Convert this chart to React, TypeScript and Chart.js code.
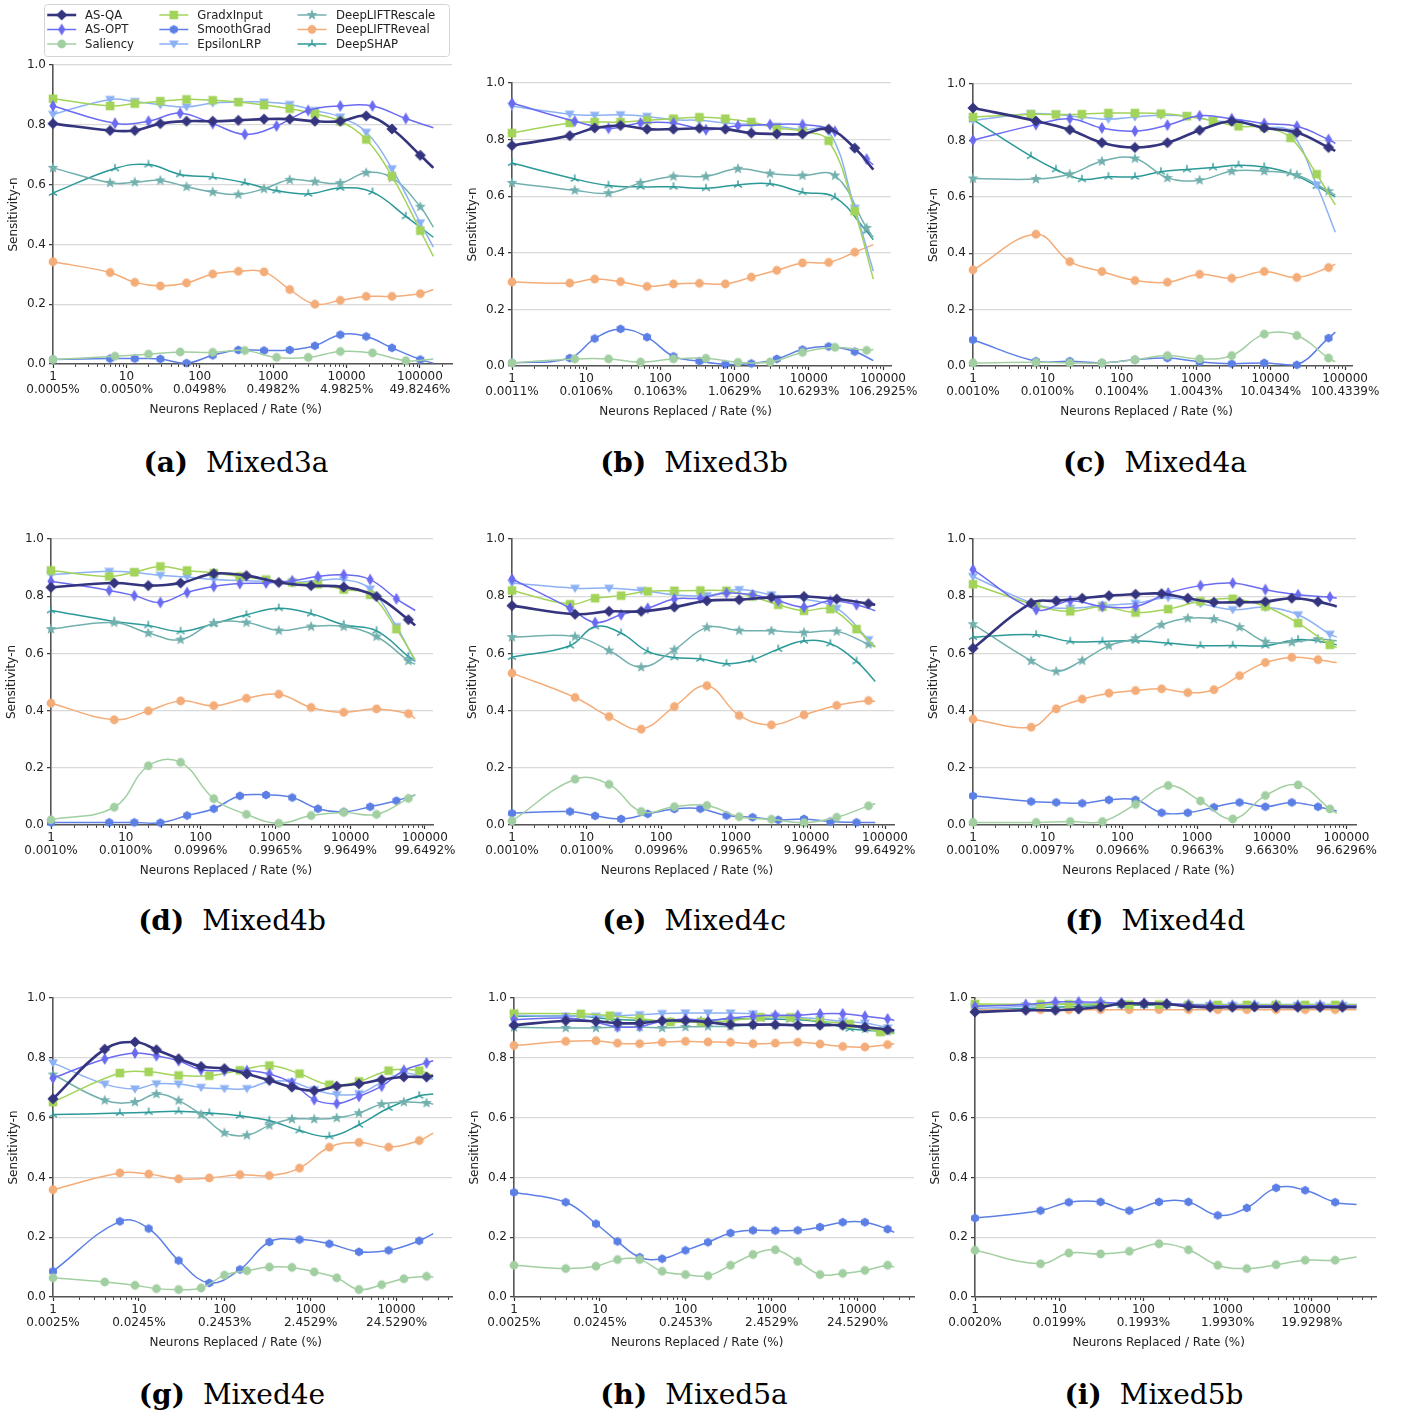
import React, { useEffect, useRef } from 'react';
import { Chart, registerables } from 'chart.js';

Chart.register(...registerables);

// ---------- series meta ----------
const METHODS = ['AS-QA', 'AS-OPT', 'Saliency', 'GradxInput', 'SmoothGrad', 'EpsilonLRP', 'DeepLIFTRescale', 'DeepLIFTReveal', 'DeepSHAP'];
const COLORS = ['#35357f', '#6b6bf2', '#a2cfa2', '#a3d45a', '#5c7fe6', '#8cb1f4', '#72b0ae', '#f4ac78', '#2b9997'];
const MARKERS = ['D', 'd', 'o', 's', 'h', 'v', '*', 'o', '2'];
const WIDTHS = [2.6, 1.5, 1.5, 1.5, 1.5, 1.5, 1.5, 1.5, 1.5];

const DECADE_TICKS = [1, 10, 100, 1000, 10000, 100000];
const Y_TICKS = [0, 0.2, 0.4, 0.6, 0.8, 1.0];

// ---------- x grids (neurons replaced) ----------
const X_A_M3A = [1, 6, 13, 29, 66, 150, 335, 750, 1680, 3700, 8200, 18500, 41500, 101000, 152000];
const X_B_M3A = [1, 7, 20, 54, 150, 410, 1110, 3000, 8200, 22500, 64000, 152000];
const X_A_MID = [1, 6, 13, 29, 66, 150, 335, 750, 1680, 3700, 8200, 18500, 41500, 74000];
const X_B_MID = [1, 7, 20, 54, 150, 410, 1110, 3000, 8200, 22500, 60000, 74000];
const X_A_LOW = [1, 6, 13, 29, 66, 150, 330, 740, 1650, 3650, 8070, 18350, 26700];
const X_D_LOW = [1, 4, 9, 16, 29, 53, 99, 181, 331, 605, 1100, 2010, 3650, 6700, 12160, 22340, 26700];
const X_A_M5B = [1, 6, 13, 31, 68, 153, 343, 764, 1690, 3767, 8340, 18920, 34000];
const X_D_M5B = [1, 4, 9, 17, 31, 55, 102, 189, 343, 620, 1140, 2085, 3767, 6820, 12560, 23120, 34000];

// ---------- tick rate labels ----------
const RATES_M3A = ['0.0005%', '0.0050%', '0.0498%', '0.4982%', '4.9825%', '49.8246%'];
const RATES_M3B = ['0.0011%', '0.0106%', '0.1063%', '1.0629%', '10.6293%', '106.2925%'];
const RATES_M4A = ['0.0010%', '0.0100%', '0.1004%', '1.0043%', '10.0434%', '100.4339%'];
const RATES_M4B = ['0.0010%', '0.0100%', '0.0996%', '0.9965%', '9.9649%', '99.6492%'];
const RATES_M4C = ['0.0010%', '0.0100%', '0.0996%', '0.9965%', '9.9649%', '99.6492%'];
const RATES_M4D = ['0.0010%', '0.0097%', '0.0966%', '0.9663%', '9.6630%', '96.6296%'];
const RATES_M4E = ['0.0025%', '0.0245%', '0.2453%', '2.4529%', '24.5290%'];
const RATES_M5A = ['0.0025%', '0.0245%', '0.2453%', '2.4529%', '24.5290%'];
const RATES_M5B = ['0.0020%', '0.0199%', '0.1993%', '1.9930%', '19.9298%'];

// ---------- values (order: AS-QA, AS-OPT, Saliency, GradxInput, SmoothGrad, EpsilonLRP, DeepLIFTRescale, DeepLIFTReveal, DeepSHAP) ----------
// grid letter per series: A = first x grid, B = second x grid
const GRID_M3A = 'ABBAAAAAB';
const M3A = [
  [0.804, 0.781, 0.781, 0.804, 0.812, 0.812, 0.815, 0.819, 0.819, 0.812, 0.812, 0.830, 0.786, 0.698, 0.656],
  [0.863, 0.805, 0.812, 0.839, 0.804, 0.768, 0.796, 0.848, 0.863, 0.863, 0.821, 0.790],
  [0.015, 0.026, 0.033, 0.040, 0.039, 0.045, 0.022, 0.022, 0.042, 0.037, 0.011, 0.017],
  [0.887, 0.863, 0.871, 0.879, 0.885, 0.882, 0.876, 0.866, 0.854, 0.837, 0.812, 0.751, 0.628, 0.446, 0.360],
  [0.015, 0.018, 0.018, 0.017, 0.003, 0.029, 0.047, 0.045, 0.047, 0.061, 0.098, 0.092, 0.054, 0.015, 0.003],
  [0.835, 0.885, 0.878, 0.867, 0.860, 0.873, 0.876, 0.876, 0.868, 0.848, 0.826, 0.775, 0.653, 0.472, 0.391],
  [0.656, 0.606, 0.608, 0.614, 0.593, 0.575, 0.567, 0.586, 0.616, 0.610, 0.605, 0.640, 0.623, 0.526, 0.458],
  [0.342, 0.306, 0.273, 0.261, 0.271, 0.301, 0.310, 0.308, 0.249, 0.200, 0.213, 0.226, 0.226, 0.235, 0.249],
  [0.572, 0.654, 0.667, 0.634, 0.625, 0.606, 0.580, 0.569, 0.589, 0.575, 0.494, 0.424],
];

const GRID_M3B = 'ABBAAABAB';
const M3B = [
  [0.779, 0.814, 0.841, 0.850, 0.837, 0.837, 0.840, 0.837, 0.823, 0.820, 0.820, 0.837, 0.770, 0.694],
  [0.929, 0.865, 0.840, 0.859, 0.859, 0.835, 0.849, 0.853, 0.853, 0.829, 0.731, 0.711],
  [0.011, 0.025, 0.025, 0.014, 0.025, 0.027, 0.013, 0.014, 0.048, 0.066, 0.055, 0.058],
  [0.823, 0.859, 0.862, 0.862, 0.868, 0.874, 0.879, 0.874, 0.862, 0.841, 0.829, 0.796, 0.547, 0.307],
  [0.011, 0.028, 0.097, 0.131, 0.102, 0.034, 0.017, 0.006, 0.009, 0.025, 0.058, 0.069, 0.051, 0.019],
  [0.918, 0.890, 0.886, 0.888, 0.882, 0.870, 0.868, 0.859, 0.853, 0.847, 0.835, 0.829, 0.558, 0.335],
  [0.647, 0.621, 0.611, 0.647, 0.670, 0.670, 0.697, 0.680, 0.673, 0.673, 0.488, 0.455],
  [0.297, 0.293, 0.307, 0.298, 0.281, 0.290, 0.292, 0.290, 0.314, 0.338, 0.364, 0.366, 0.402, 0.429],
  [0.717, 0.661, 0.638, 0.633, 0.633, 0.628, 0.640, 0.644, 0.614, 0.596, 0.476, 0.446],
];

const GRID_M4A = 'BBBABABBA';
const M4A = [
  [0.915, 0.869, 0.838, 0.792, 0.775, 0.792, 0.836, 0.868, 0.844, 0.828, 0.775, 0.763],
  [0.801, 0.856, 0.877, 0.844, 0.833, 0.854, 0.887, 0.877, 0.860, 0.850, 0.803, 0.789],
  [0.011, 0.013, 0.011, 0.011, 0.022, 0.037, 0.025, 0.037, 0.113, 0.108, 0.028, 0.015],
  [0.883, 0.892, 0.892, 0.893, 0.897, 0.897, 0.895, 0.886, 0.869, 0.850, 0.846, 0.809, 0.680, 0.571],
  [0.093, 0.017, 0.017, 0.011, 0.022, 0.028, 0.015, 0.008, 0.011, 0.004, 0.099, 0.120],
  [0.871, 0.895, 0.892, 0.883, 0.875, 0.883, 0.889, 0.886, 0.871, 0.862, 0.848, 0.830, 0.642, 0.474],
  [0.665, 0.663, 0.680, 0.726, 0.736, 0.667, 0.659, 0.691, 0.691, 0.677, 0.620, 0.606],
  [0.341, 0.467, 0.370, 0.335, 0.303, 0.297, 0.325, 0.311, 0.335, 0.314, 0.349, 0.361],
  [0.874, 0.744, 0.697, 0.662, 0.671, 0.671, 0.689, 0.697, 0.704, 0.712, 0.706, 0.683, 0.638, 0.600],
];

const GRID_M4B = 'BABAAABBB';
const M4B = [
  [0.831, 0.846, 0.837, 0.846, 0.879, 0.872, 0.848, 0.837, 0.832, 0.799, 0.718, 0.698],
  [0.852, 0.820, 0.802, 0.778, 0.813, 0.834, 0.844, 0.846, 0.854, 0.869, 0.875, 0.858, 0.791, 0.750],
  [0.018, 0.062, 0.207, 0.219, 0.092, 0.037, 0.006, 0.033, 0.044, 0.037, 0.093, 0.107],
  [0.890, 0.869, 0.884, 0.904, 0.890, 0.881, 0.869, 0.858, 0.848, 0.842, 0.823, 0.805, 0.685, 0.578],
  [0.009, 0.009, 0.009, 0.008, 0.033, 0.057, 0.102, 0.105, 0.096, 0.057, 0.046, 0.064, 0.085, 0.105],
  [0.875, 0.887, 0.883, 0.873, 0.867, 0.858, 0.855, 0.852, 0.848, 0.855, 0.858, 0.825, 0.694, 0.572],
  [0.685, 0.708, 0.671, 0.648, 0.706, 0.708, 0.680, 0.694, 0.694, 0.659, 0.574, 0.562],
  [0.426, 0.368, 0.399, 0.434, 0.417, 0.443, 0.457, 0.411, 0.394, 0.406, 0.389, 0.372],
  [0.750, 0.712, 0.698, 0.677, 0.704, 0.735, 0.758, 0.739, 0.700, 0.679, 0.589, 0.572],
];

const GRID_M4C = 'BABAABBBA';
const M4C = [
  [0.767, 0.737, 0.747, 0.747, 0.762, 0.784, 0.788, 0.796, 0.799, 0.790, 0.774, 0.770],
  [0.860, 0.758, 0.708, 0.735, 0.758, 0.790, 0.793, 0.811, 0.805, 0.784, 0.762, 0.784, 0.770, 0.749],
  [0.014, 0.160, 0.142, 0.047, 0.064, 0.068, 0.029, 0.020, 0.008, 0.027, 0.067, 0.074],
  [0.820, 0.772, 0.793, 0.802, 0.817, 0.819, 0.820, 0.819, 0.799, 0.770, 0.749, 0.755, 0.685, 0.622],
  [0.041, 0.047, 0.032, 0.021, 0.039, 0.056, 0.057, 0.033, 0.027, 0.018, 0.021, 0.012, 0.009, 0.009],
  [0.846, 0.828, 0.828, 0.820, 0.805, 0.802, 0.823, 0.805, 0.790, 0.758, 0.648, 0.622],
  [0.657, 0.659, 0.610, 0.552, 0.613, 0.691, 0.680, 0.679, 0.673, 0.677, 0.632, 0.624],
  [0.531, 0.446, 0.379, 0.335, 0.414, 0.487, 0.383, 0.350, 0.385, 0.418, 0.435, 0.432],
  [0.587, 0.627, 0.694, 0.671, 0.607, 0.586, 0.581, 0.564, 0.578, 0.615, 0.644, 0.634, 0.572, 0.502],
];

const GRID_M4D = 'ABBBABAAB';
const M4D = [
  [0.618, 0.776, 0.784, 0.793, 0.802, 0.807, 0.809, 0.793, 0.779, 0.779, 0.781, 0.793, 0.781, 0.764],
  [0.893, 0.753, 0.784, 0.764, 0.764, 0.811, 0.837, 0.846, 0.823, 0.805, 0.797, 0.793],
  [0.009, 0.009, 0.012, 0.012, 0.072, 0.138, 0.084, 0.021, 0.103, 0.140, 0.056, 0.041],
  [0.842, 0.768, 0.747, 0.763, 0.743, 0.755, 0.782, 0.791, 0.764, 0.706, 0.630, 0.621],
  [0.102, 0.082, 0.079, 0.076, 0.088, 0.088, 0.043, 0.043, 0.062, 0.079, 0.064, 0.079, 0.064, 0.049],
  [0.869, 0.771, 0.758, 0.768, 0.775, 0.795, 0.774, 0.753, 0.761, 0.735, 0.667, 0.657],
  [0.702, 0.574, 0.537, 0.575, 0.627, 0.653, 0.700, 0.723, 0.720, 0.692, 0.641, 0.639, 0.650, 0.644],
  [0.370, 0.342, 0.406, 0.440, 0.461, 0.470, 0.476, 0.463, 0.473, 0.522, 0.568, 0.586, 0.578, 0.568],
  [0.657, 0.665, 0.642, 0.642, 0.644, 0.636, 0.627, 0.628, 0.627, 0.648, 0.636, 0.630],
];

const GRID_M4E = 'BBBAABBAA';
const M4E = [
  [0.663, 0.829, 0.853, 0.827, 0.797, 0.771, 0.764, 0.746, 0.725, 0.702, 0.690, 0.705, 0.713, 0.727, 0.736, 0.736, 0.740],
  [0.732, 0.796, 0.816, 0.807, 0.790, 0.760, 0.757, 0.757, 0.746, 0.716, 0.660, 0.647, 0.671, 0.705, 0.758, 0.783, 0.790],
  [0.064, 0.050, 0.039, 0.028, 0.025, 0.030, 0.073, 0.088, 0.100, 0.099, 0.084, 0.064, 0.025, 0.041, 0.061, 0.069, 0.066],
  [0.652, 0.749, 0.753, 0.741, 0.740, 0.758, 0.774, 0.747, 0.710, 0.721, 0.757, 0.757, 0.741],
  [0.086, 0.253, 0.229, 0.122, 0.047, 0.092, 0.184, 0.192, 0.178, 0.151, 0.156, 0.188, 0.212],
  [0.783, 0.712, 0.696, 0.713, 0.712, 0.701, 0.697, 0.697, 0.721, 0.719, 0.693, 0.677, 0.680, 0.718, 0.749, 0.732, 0.729],
  [0.744, 0.658, 0.652, 0.679, 0.657, 0.610, 0.549, 0.541, 0.574, 0.595, 0.595, 0.599, 0.615, 0.645, 0.652, 0.649, 0.645],
  [0.359, 0.415, 0.411, 0.395, 0.398, 0.409, 0.406, 0.431, 0.501, 0.517, 0.501, 0.523, 0.548],
  [0.610, 0.615, 0.618, 0.621, 0.615, 0.606, 0.590, 0.557, 0.537, 0.576, 0.632, 0.673, 0.679],
];

const GRID_M5A = 'BBBABBBBA';
const M5A = [
  [0.909, 0.924, 0.922, 0.916, 0.916, 0.924, 0.924, 0.919, 0.911, 0.911, 0.911, 0.909, 0.909, 0.909, 0.903, 0.894, 0.891],
  [0.928, 0.933, 0.919, 0.903, 0.905, 0.922, 0.930, 0.924, 0.933, 0.939, 0.942, 0.942, 0.947, 0.947, 0.939, 0.930, 0.925],
  [0.106, 0.095, 0.103, 0.125, 0.125, 0.086, 0.075, 0.071, 0.106, 0.142, 0.158, 0.119, 0.075, 0.079, 0.089, 0.106, 0.100],
  [0.948, 0.947, 0.941, 0.931, 0.920, 0.920, 0.924, 0.936, 0.935, 0.922, 0.913, 0.886, 0.881],
  [0.350, 0.317, 0.245, 0.186, 0.133, 0.128, 0.156, 0.183, 0.214, 0.223, 0.222, 0.223, 0.234, 0.250, 0.250, 0.227, 0.216],
  [0.942, 0.939, 0.939, 0.941, 0.944, 0.948, 0.950, 0.950, 0.950, 0.947, 0.939, 0.935, 0.930, 0.922, 0.916, 0.900, 0.891],
  [0.902, 0.900, 0.900, 0.903, 0.903, 0.900, 0.903, 0.905, 0.905, 0.909, 0.909, 0.909, 0.911, 0.909, 0.897, 0.889, 0.885],
  [0.841, 0.855, 0.857, 0.849, 0.847, 0.852, 0.855, 0.853, 0.852, 0.847, 0.849, 0.852, 0.846, 0.838, 0.836, 0.844, 0.847],
  [0.939, 0.939, 0.930, 0.925, 0.920, 0.924, 0.930, 0.930, 0.928, 0.920, 0.897, 0.889, 0.883],
];

const GRID_M5B = 'BBAAABBAB';
const M5B = [
  [0.953, 0.959, 0.959, 0.963, 0.970, 0.981, 0.981, 0.980, 0.972, 0.969, 0.969, 0.970, 0.970, 0.969, 0.969, 0.969, 0.969],
  [0.972, 0.978, 0.987, 0.987, 0.986, 0.983, 0.983, 0.981, 0.978, 0.975, 0.974, 0.974, 0.974, 0.974, 0.974, 0.974, 0.974],
  [0.156, 0.111, 0.147, 0.144, 0.153, 0.178, 0.158, 0.106, 0.095, 0.108, 0.123, 0.123, 0.134],
  [0.980, 0.979, 0.979, 0.978, 0.978, 0.978, 0.977, 0.977, 0.977, 0.977, 0.977, 0.977, 0.977],
  [0.264, 0.289, 0.317, 0.318, 0.289, 0.318, 0.318, 0.273, 0.298, 0.365, 0.357, 0.317, 0.309],
  [0.965, 0.972, 0.978, 0.980, 0.980, 0.980, 0.979, 0.978, 0.976, 0.975, 0.975, 0.975, 0.975, 0.975, 0.975, 0.975, 0.975],
  [0.975, 0.978, 0.980, 0.980, 0.980, 0.980, 0.980, 0.979, 0.978, 0.978, 0.978, 0.978, 0.978, 0.978, 0.978, 0.978, 0.978],
  [0.961, 0.961, 0.961, 0.961, 0.961, 0.961, 0.961, 0.961, 0.961, 0.961, 0.961, 0.961, 0.961],
  [0.960, 0.965, 0.970, 0.972, 0.975, 0.976, 0.976, 0.976, 0.975, 0.975, 0.975, 0.975, 0.975, 0.975, 0.975, 0.975, 0.975],
];

type Panel = { letter: string; name: string; xA: number[]; xB: number[]; grid: string; values: number[][]; xMax: number; rates: string[] };

const PANELS: Panel[] = [
  { letter: '(a)', name: 'Mixed3a', xA: X_A_M3A, xB: X_B_M3A, grid: GRID_M3A, values: M3A, xMax: 273000, rates: RATES_M3A },
  { letter: '(b)', name: 'Mixed3b', xA: X_A_MID, xB: X_B_MID, grid: GRID_M3B, values: M3B, xMax: 128000, rates: RATES_M3B },
  { letter: '(c)', name: 'Mixed4a', xA: X_A_MID, xB: X_B_MID, grid: GRID_M4A, values: M4A, xMax: 124000, rates: RATES_M4A },
  { letter: '(d)', name: 'Mixed4b', xA: X_A_MID, xB: X_B_MID, grid: GRID_M4B, values: M4B, xMax: 128000, rates: RATES_M4B },
  { letter: '(e)', name: 'Mixed4c', xA: X_A_MID, xB: X_B_MID, grid: GRID_M4C, values: M4C, xMax: 132000, rates: RATES_M4C },
  { letter: '(f)', name: 'Mixed4d', xA: X_A_MID, xB: X_B_MID, grid: GRID_M4D, values: M4D, xMax: 134000, rates: RATES_M4D },
  { letter: '(g)', name: 'Mixed4e', xA: X_A_LOW, xB: X_D_LOW, grid: GRID_M4E, values: M4E, xMax: 44200, rates: RATES_M4E },
  { letter: '(h)', name: 'Mixed5a', xA: X_A_LOW, xB: X_D_LOW, grid: GRID_M5A, values: M5A, xMax: 45300, rates: RATES_M5A },
  { letter: '(i)', name: 'Mixed5b', xA: X_A_M5B, xB: X_D_M5B, grid: GRID_M5B, values: M5B, xMax: 57900, rates: RATES_M5B },
];

// page layout of each panel (plot spine / top / bottom / right end, caption centre)
const LAYOUT = [
  { spine: 53, top: 65, bottom: 364, right: 452, capX: 236, capY: 462 },
  { spine: 512, top: 83, bottom: 366, right: 891, capX: 694, capY: 462 },
  { spine: 973, top: 84, bottom: 366, right: 1352, capX: 1155, capY: 462 },
  { spine: 51, top: 539, bottom: 825, right: 433, capX: 232, capY: 920 },
  { spine: 512, top: 539, bottom: 825, right: 894, capX: 694, capY: 920 },
  { spine: 973, top: 539, bottom: 825, right: 1356, capX: 1155, capY: 920 },
  { spine: 53, top: 998, bottom: 1297, right: 452, capX: 232, capY: 1394 },
  { spine: 514, top: 998, bottom: 1297, right: 914, capX: 694, capY: 1394 },
  { spine: 975, top: 998, bottom: 1297, right: 1376, capX: 1154, capY: 1394 },
];

const FONT = '"DejaVu Sans", sans-serif';

// ---------- marker sprites ----------
const markerCache: Record<string, HTMLCanvasElement> = {};
function markerFor(i: number): HTMLCanvasElement {
  const key = MARKERS[i] + COLORS[i];
  if (markerCache[key]) return markerCache[key];
  const S = 16;
  const c = document.createElement('canvas');
  c.width = S;
  c.height = S;
  const g = c.getContext('2d')!;
  const m = S / 2;
  g.fillStyle = COLORS[i];
  g.strokeStyle = COLORS[i];
  g.beginPath();
  switch (MARKERS[i]) {
    case 'D':
      g.moveTo(m, m - 5.6); g.lineTo(m + 5.6, m); g.lineTo(m, m + 5.6); g.lineTo(m - 5.6, m); g.closePath(); g.fill();
      break;
    case 'd':
      g.moveTo(m, m - 6); g.lineTo(m + 3.6, m); g.lineTo(m, m + 6); g.lineTo(m - 3.6, m); g.closePath(); g.fill();
      break;
    case 'o':
      g.arc(m, m, 4.4, 0, Math.PI * 2); g.fill();
      break;
    case 's':
      g.rect(m - 4.3, m - 4.3, 8.6, 8.6); g.fill();
      break;
    case 'h':
      for (let k = 0; k < 6; k++) {
        const a = -Math.PI / 2 + (k * Math.PI) / 3;
        const px = m + 4.6 * Math.cos(a), py = m + 4.6 * Math.sin(a);
        if (k === 0) g.moveTo(px, py); else g.lineTo(px, py);
      }
      g.closePath(); g.fill();
      break;
    case 'v':
      g.moveTo(m - 5, m - 3.6); g.lineTo(m + 5, m - 3.6); g.lineTo(m, m + 4.8); g.closePath(); g.fill();
      break;
    case '*':
      for (let k = 0; k < 10; k++) {
        const a = -Math.PI / 2 + (k * Math.PI) / 5;
        const r = k % 2 === 0 ? 5.8 : 2.4;
        const px = m + r * Math.cos(a), py = m + r * Math.sin(a);
        if (k === 0) g.moveTo(px, py); else g.lineTo(px, py);
      }
      g.closePath(); g.fill();
      break;
    case '2':
      g.lineWidth = 1.4;
      g.moveTo(m, m); g.lineTo(m, m - 4.6);
      g.moveTo(m, m); g.lineTo(m - 4, m + 2.3);
      g.moveTo(m, m); g.lineTo(m + 4, m + 2.3);
      g.stroke();
      break;
  }
  markerCache[key] = c;
  return c;
}

function drawLegend(ctx: CanvasRenderingContext2D, offX: number, offY: number) {
  const bx = 44 - offX, by = 4 - offY, bw = 405, bh = 52;
  ctx.save();
  ctx.beginPath();
  if ((ctx as any).roundRect) (ctx as any).roundRect(bx + 0.5, by + 0.5, bw, bh, 3);
  else ctx.rect(bx + 0.5, by + 0.5, bw, bh);
  ctx.fillStyle = 'rgba(255,255,255,0.9)';
  ctx.fill();
  ctx.strokeStyle = '#d4d4d4';
  ctx.lineWidth = 1;
  ctx.stroke();
  const markX = [61.7, 173.8, 312];
  const textX = [85, 197.3, 336];
  const rowY = [15, 29.5, 44];
  ctx.font = `11.7px ${FONT}`;
  ctx.textAlign = 'left';
  ctx.textBaseline = 'middle';
  for (let i = 0; i < METHODS.length; i++) {
    const col = Math.floor(i / 3), row = i % 3;
    const mx = markX[col] - offX, y = rowY[row] - offY;
    ctx.strokeStyle = COLORS[i];
    ctx.lineWidth = WIDTHS[i];
    ctx.beginPath();
    ctx.moveTo(mx - 14.5, y);
    ctx.lineTo(mx + 14.5, y);
    ctx.stroke();
    const mk = markerFor(i);
    ctx.drawImage(mk, mx - mk.width / 2, y - mk.height / 2);
    ctx.fillStyle = '#222';
    ctx.fillText(METHODS[i], textX[col] - offX, y + 0.5);
  }
  ctx.restore();
}

function PanelChart({ p, g, legend }: { p: Panel; g: (typeof LAYOUT)[number]; legend: boolean }) {
  const ref = useRef<HTMLCanvasElement>(null);
  const yW = 50, padR = 44, xH = 60;
  const padTop = legend ? g.top : 14;
  const left = g.spine - yW;
  const topC = g.top - padTop;
  const width = yW + (g.right - g.spine) + padR;
  const height = g.bottom - topC + xH;

  useEffect(() => {
    const canvas = ref.current!;
    const datasets = p.values.map((vals, si) => {
      const xs = p.grid[si] === 'A' ? p.xA : p.xB;
      const n = Math.min(xs.length, vals.length);
      const pts: { x: number; y: number }[] = [];
      for (let i = 0; i < n; i++) pts.push({ x: xs[i], y: vals[i] });
      return {
        label: METHODS[si],
        data: pts,
        borderColor: COLORS[si],
        backgroundColor: COLORS[si],
        borderWidth: WIDTHS[si],
        pointStyle: markerFor(si),
        pointRadius: pts.map((_, i) => (i === n - 1 ? 0 : 5)),
        pointHoverRadius: 0,
        tension: 0.4,
        fill: false,
        clip: false as any,
      };
    });
    const decor = {
      id: 'decor',
      afterDraw(chart: any) {
        const ctx: CanvasRenderingContext2D = chart.ctx;
        const xs = chart.scales.x;
        const { left: l, right: r, bottom: b } = chart.chartArea;
        ctx.save();
        ctx.strokeStyle = '#333';
        ctx.lineWidth = 1;
        for (const d of DECADE_TICKS) {
          for (let k = 2; k < 10; k++) {
            const v = k * d;
            if (v > p.xMax) continue;
            const px = Math.round(xs.getPixelForValue(v)) + 0.5;
            ctx.beginPath();
            ctx.moveTo(px, b + 0.5);
            ctx.lineTo(px, b + 2.8);
            ctx.stroke();
          }
        }
        ctx.fillStyle = '#222';
        ctx.font = `12px ${FONT}`;
        ctx.textAlign = 'center';
        ctx.textBaseline = 'middle';
        ctx.fillText('Neurons Replaced / Rate (%)', l + 0.458 * (r - l), b + 45.5);
        ctx.restore();
        if (legend) drawLegend(ctx, left, topC);
      },
    };
    const chart = new Chart(canvas, {
      type: 'line',
      data: { datasets: datasets as any },
      options: {
        animation: false,
        responsive: false,
        devicePixelRatio: 1,
        events: [],
        layout: { padding: { left: 0, top: padTop, right: padR, bottom: 0 } },
        plugins: { legend: { display: false }, tooltip: { enabled: false } },
        scales: {
          x: {
            type: 'logarithmic',
            min: 1,
            max: p.xMax,
            bounds: 'data',
            afterBuildTicks: (s: any) => {
              s.ticks = DECADE_TICKS.filter((v) => v <= p.xMax).map((v) => ({ value: v }));
            },
            afterFit: (s: any) => {
              s.height = xH;
            },
            grid: { drawOnChartArea: false, drawTicks: true, tickLength: 4, tickColor: '#333', tickWidth: 1.2 },
            border: { display: true, color: '#555', width: 1.6 },
            ticks: {
              autoSkip: false,
              maxRotation: 0,
              padding: 1.5,
              color: '#222',
              font: { family: FONT, size: 12, lineHeight: 1.15 },
              callback: (value: any) => {
                const e = Math.round(Math.log10(Number(value)));
                return [String(DECADE_TICKS[e]), p.rates[e]];
              },
            },
          },
          y: {
            min: 0,
            max: 1,
            afterBuildTicks: (s: any) => {
              s.ticks = Y_TICKS.map((v) => ({ value: v }));
            },
            afterFit: (s: any) => {
              s.width = yW;
            },
            grid: { color: '#d9d9d9', lineWidth: 1.3, tickColor: '#333', tickLength: 4, tickWidth: 1.2 },
            border: { display: true, color: '#555', width: 1.6 },
            ticks: {
              padding: 3,
              color: '#222',
              font: { family: FONT, size: 12 },
              callback: (v: any) => Number(v).toFixed(1),
            },
            title: {
              display: true,
              text: 'Sensitivity-n',
              color: '#222',
              font: { family: FONT, size: 12, lineHeight: 1.15 },
              padding: { top: 4, bottom: 0 },
            },
          },
        },
      } as any,
      plugins: [decor],
    });
    return () => chart.destroy();
  }, []);

  return (
    <canvas
      ref={ref}
      width={width}
      height={height}
      style={{ position: 'absolute', left, top: topC, width, height }}
    />
  );
}

export default function App() {
  return (
    <div style={{ position: 'relative', width: 1401, height: 1416, overflow: 'hidden', background: '#fff' }}>
      <style>{'body{margin:0;background:#fff;}'}</style>
      {PANELS.map((p, i) => (
        <PanelChart key={p.name} p={p} g={LAYOUT[i]} legend={i === 0} />
      ))}
      {PANELS.map((p, i) => (
        <div
          key={'cap' + p.name}
          style={{
            position: 'absolute',
            left: LAYOUT[i].capX - 200,
            top: LAYOUT[i].capY - 17.5,
            width: 400,
            textAlign: 'center',
            fontFamily: '"DejaVu Serif", serif',
            fontSize: 28,
            lineHeight: '36px',
            color: '#000',
            whiteSpace: 'nowrap',
          }}
        >
          <b>{p.letter}</b>
          <span style={{ marginLeft: 18 }}>{p.name}</span>
        </div>
      ))}
    </div>
  );
}
